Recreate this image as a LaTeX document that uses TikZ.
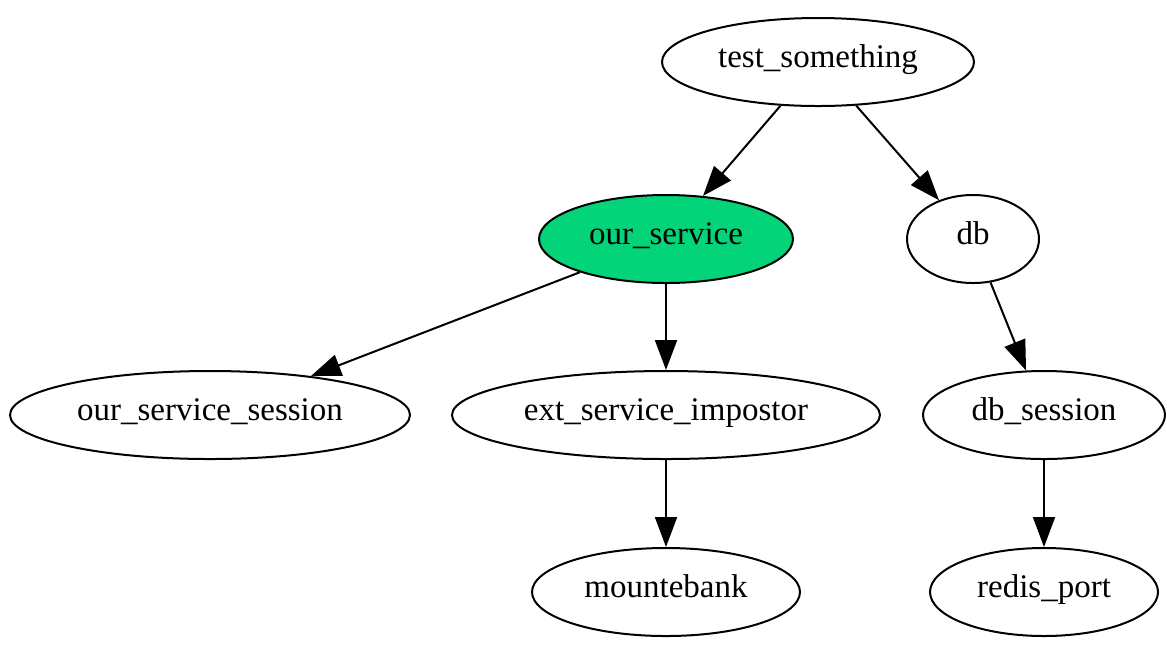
\documentclass[tikz,border=0pt]{standalone}
\usepackage{fontspec}
\setmainfont{Liberation Serif}
\usetikzlibrary{shapes.geometric,arrows.meta}
\definecolor{svcgreen}{RGB}{3,212,122}
\begin{document}
\begin{tikzpicture}[x=0.5pt,y=-0.5pt,
  gnode/.style={ellipse,draw=black,line width=1pt,inner sep=0pt,minimum height=44pt,text height=0.7em,text depth=0.2em,font=\fontsize{16.5pt}{19pt}\selectfont},
  edge/.style={line width=1pt,-{Triangle[length=15pt,width=11pt]}}]
\useasboundingbox (0,0) rectangle (1167,645);
\node[gnode,minimum width=156pt] (ts) at (818,62) {test\_something};
\node[gnode,minimum width=127pt,fill=svcgreen] (os) at (666,239) {our\_service};
\node[gnode,minimum width=66pt] (db) at (973,239) {db};
\node[gnode,minimum width=200pt] (oss) at (210,415) {our\_service\_session};
\node[gnode,minimum width=214pt] (ext) at (666,415) {ext\_service\_impostor};
\node[gnode,minimum width=121pt] (dbs) at (1044,415) {db\_session};
\node[gnode,minimum width=134pt] (mb) at (666,592) {mountebank};
\node[gnode,minimum width=114pt] (rp) at (1044,592) {redis\_port};
\draw[edge] (ts) -- (os);
\draw[edge] (ts) -- (db);
\draw[edge] (os) -- (oss);
\draw[edge] (os) -- (ext);
\draw[edge] (db) -- (dbs);
\draw[edge] (ext) -- (mb);
\draw[edge] (dbs) -- (rp);
\end{tikzpicture}
\end{document}
